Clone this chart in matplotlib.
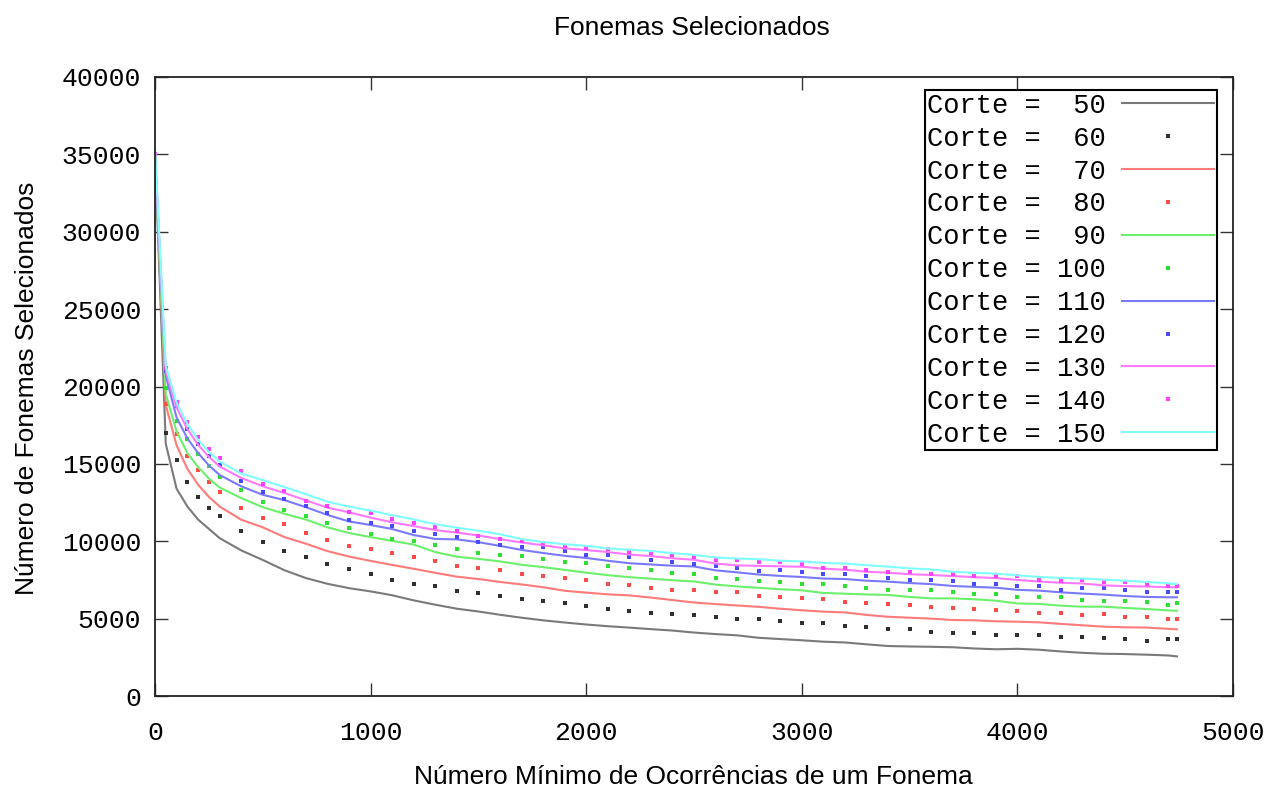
import numpy as np
import matplotlib.pyplot as plt
from matplotlib.font_manager import FontProperties

# numero minimo de ocorrencias (eixo x)
ocorrencias = [0, 50, 100, 150, 200, 250, 300] + list(range(400, 4701, 100)) + [4740]

corte_50 = [35000, 16300, 13400, 12250, 11400, 10800, 10200, 9410, 8790, 8130, 7620, 7250, 6970,
            6760, 6510, 6180, 5900, 5640, 5460, 5250, 5060, 4890, 4750, 4620, 4510, 4420, 4320,
            4230, 4100, 4000, 3920, 3760, 3680, 3600, 3510, 3460, 3340, 3230, 3200, 3180, 3150,
            3070, 3020, 3050, 2990, 2880, 2790, 2730, 2710, 2670, 2620, 2560]
corte_60 = [35000, 17000, 15250, 13860, 12850, 12150, 11600, 10690, 9950, 9380, 8950, 8560, 8200,
            7870, 7520, 7240, 7100, 6810, 6680, 6480, 6290, 6170, 6010, 5800, 5620, 5510, 5380,
            5330, 5230, 5130, 4980, 4950, 4870, 4740, 4720, 4500, 4440, 4310, 4310, 4160, 4080,
            4050, 3950, 3920, 3920, 3830, 3790, 3770, 3660, 3550, 3660, 3660]
corte_70 = [35000, 18800, 16200, 14680, 13650, 12870, 12240, 11390, 10900, 10270, 9840, 9360, 9010,
            8730, 8470, 8220, 7960, 7710, 7560, 7370, 7210, 7030, 6800, 6680, 6570, 6500, 6360,
            6200, 6040, 5940, 5850, 5760, 5640, 5540, 5450, 5400, 5240, 5120, 5060, 5000, 4910,
            4890, 4830, 4800, 4760, 4660, 4570, 4480, 4440, 4420, 4340, 4310]
corte_80 = [35000, 18900, 16900, 15520, 14630, 13830, 13200, 12140, 11480, 11100, 10520, 10110, 9700,
            9470, 9250, 8950, 8740, 8420, 8250, 8140, 7880, 7750, 7600, 7520, 7240, 7150, 6960,
            6850, 6850, 6700, 6700, 6480, 6420, 6310, 6300, 6080, 6030, 5950, 5900, 5770, 5680,
            5640, 5550, 5510, 5380, 5380, 5250, 5270, 5120, 5120, 4990, 4990]
corte_90 = [35000, 19500, 17100, 15700, 14790, 14050, 13470, 12790, 12200, 11780, 11400, 10900, 10530,
            10270, 10020, 9790, 9300, 9000, 8860, 8700, 8480, 8330, 8150, 7970, 7810, 7680, 7580,
            7480, 7400, 7200, 7080, 6990, 6900, 6830, 6660, 6610, 6560, 6530, 6400, 6310, 6310,
            6250, 6160, 5980, 5950, 5840, 5770, 5770, 5690, 5620, 5530, 5510]
corte_100 = [35000, 19900, 17800, 16600, 15650, 14850, 14150, 13320, 12560, 12050, 11610, 11190, 10830,
             10500, 10160, 9990, 9740, 9480, 9270, 9080, 9030, 8830, 8680, 8570, 8400, 8250, 8140,
             7970, 7880, 7600, 7590, 7450, 7350, 7250, 7230, 7110, 6960, 6880, 6830, 6830, 6700,
             6570, 6570, 6420, 6420, 6420, 6180, 6160, 6160, 6050, 5900, 6030]
corte_110 = [35000, 20700, 18000, 16650, 15700, 14900, 14280, 13550, 13000, 12660, 12200, 11700, 11280,
             11050, 10790, 10400, 10150, 10120, 9940, 9700, 9440, 9240, 9060, 8920, 8740, 8580, 8500,
             8420, 8370, 8120, 7990, 7850, 7760, 7690, 7590, 7560, 7450, 7390, 7300, 7230, 7110,
             7050, 7000, 6860, 6810, 6700, 6620, 6550, 6460, 6400, 6380, 6380]
corte_120 = [35000, 21000, 18720, 17280, 16300, 15500, 14900, 13900, 13200, 12700, 12300, 11830, 11400,
             11180, 10960, 10650, 10470, 10250, 9970, 9750, 9610, 9610, 9350, 9120, 9090, 9000, 8790,
             8630, 8530, 8400, 8260, 8090, 8140, 8010, 7870, 7880, 7750, 7620, 7500, 7500, 7400,
             7240, 7240, 7100, 7090, 6880, 6960, 6960, 6830, 6700, 6700, 6700]
corte_130 = [35000, 21000, 18650, 17250, 16230, 15450, 14830, 14090, 13550, 13120, 12640, 12170, 11870,
             11530, 11220, 10980, 10720, 10560, 10370, 10140, 9920, 9740, 9540, 9430, 9300, 9140, 9040,
             8900, 8800, 8560, 8440, 8410, 8380, 8350, 8230, 8160, 8030, 7970, 7870, 7820, 7750,
             7680, 7620, 7500, 7400, 7320, 7270, 7150, 7100, 7070, 7030, 7020]
corte_140 = [35000, 21200, 19000, 17720, 16750, 15970, 15400, 14530, 13700, 13250, 12600, 12300, 11900,
             11800, 11460, 11200, 10920, 10670, 10340, 10130, 9990, 9870, 9700, 9560, 9480, 9330, 9220,
             9100, 8950, 8790, 8780, 8630, 8660, 8530, 8280, 8290, 8140, 8010, 8010, 7880, 7880,
             7750, 7750, 7780, 7480, 7400, 7470, 7380, 7350, 7220, 7090, 7090]
corte_150 = [35400, 21300, 18950, 17580, 16550, 15770, 15150, 14380, 13950, 13500, 13040, 12550, 12240,
             11980, 11680, 11410, 11100, 10880, 10680, 10450, 10140, 9950, 9800, 9700, 9540, 9460, 9370,
             9230, 9120, 8950, 8880, 8840, 8740, 8700, 8600, 8560, 8450, 8360, 8250, 8180, 8030,
             7960, 7910, 7800, 7690, 7630, 7590, 7520, 7450, 7370, 7280, 7240]

series = [(50, corte_50), (60, corte_60), (70, corte_70), (80, corte_80), (90, corte_90),
          (100, corte_100), (110, corte_110), (120, corte_120), (130, corte_130),
          (140, corte_140), (150, corte_150)]
cores_linha = ['#7a7a7a', '#ff7a7a', '#6cf06c', '#7a7aff', '#ff7aff', '#80ffff']
cores_ponto = ['#303030', '#ff4a4a', '#30e030', '#4a4aff', '#ff40ff']

mono = FontProperties(family='Liberation Mono', size=19)
sans = 'Liberation Sans'

fig = plt.figure(figsize=(12.67, 7.89), dpi=100)
ax = fig.add_axes([155 / 1267, 1 - 696 / 789, 1078 / 1267, 619 / 789])

for i, (corte, valores) in enumerate(series):
    rotulo = 'Corte = %3d' % corte
    if i % 2 == 0:
        ax.plot(ocorrencias, valores, color=cores_linha[i // 2], lw=1.5, label=rotulo)
    else:
        ax.plot(ocorrencias, valores, ls='none', marker='s', ms=2.2, mew=0,
                color=cores_ponto[i // 2], label=rotulo)

ax.set_xlim(0, 5000)
ax.set_ylim(0, 40000)
ax.set_xticks(np.arange(0, 5001, 1000))
ax.set_yticks(np.arange(0, 40001, 5000))
ax.tick_params(direction='in', length=9.5, width=1.0, top=True, right=True, color='#333333')
ax.tick_params(axis='y', pad=10)
ax.tick_params(axis='x', pad=18)
for lab in ax.get_xticklabels() + ax.get_yticklabels():
    lab.set_fontproperties(mono)
for s in ax.spines.values():
    s.set_linewidth(1.3)
    s.set_color('#222222')

leg = ax.legend(loc='upper right', bbox_to_anchor=((1217 - 155) / 1078, (696 - 90) / 619),
                prop=FontProperties(family='Liberation Mono', size=19.5), frameon=True,
                fancybox=False, edgecolor='black', borderpad=0.1, labelspacing=0.255,
                handlelength=3.4, handletextpad=0.6, borderaxespad=0, numpoints=1,
                markerfirst=False)
leg.get_frame().set_linewidth(1.5)
leg.get_frame().set_alpha(1)

fig.text(692 / 1267, 1 - 28 / 789, 'Fonemas Selecionados', family=sans, size=19,
         ha='center', va='center')
fig.text(693 / 1267, 1 - 777 / 789, 'Número Mínimo de Ocorrências de um Fonema', family=sans,
         size=19, ha='center', va='center')
fig.text(27 / 1267, 1 - 388 / 789, 'Número de Fonemas Selecionados', family=sans, size=19,
         rotation=90, ha='center', va='center')

fig.savefig('out.png', dpi=100)
